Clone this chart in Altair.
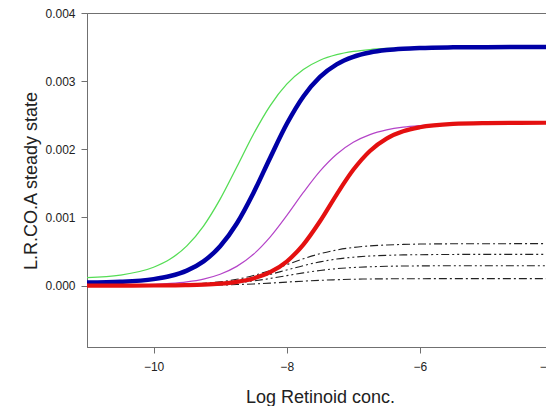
import altair as alt
import pandas as pd

# Log retinoid concentration (shared x grid)
log_conc = [-11, -10.5, -10, -9.75, -9.5, -9.25, -9, -8.75, -8.5, -8.25, -8, -7.75,
            -7.5, -7.25, -7, -6.75, -6.5, -6.25, -6, -5.5, -5, -4.5, -4]

# Steady-state values, in units of 0.001
green = [0.118, 0.155, 0.270, 0.390, 0.584, 0.875, 1.270, 1.741, 2.222, 2.639, 2.956, 3.171,
         3.307, 3.388, 3.436, 3.464, 3.480, 3.489, 3.494, 3.498, 3.499, 3.500, 3.500]
blue = [0.045, 0.057, 0.096, 0.141, 0.220, 0.356, 0.578, 0.912, 1.360, 1.874, 2.371, 2.776,
        3.063, 3.247, 3.357, 3.420, 3.456, 3.476, 3.487, 3.496, 3.499, 3.500, 3.500]
purple = [0.002, 0.006, 0.018, 0.032, 0.056, 0.097, 0.168, 0.283, 0.460, 0.712, 1.027, 1.367,
          1.680, 1.928, 2.103, 2.216, 2.285, 2.326, 2.349, 2.370, 2.377, 2.379, 2.380]
red = [0.000, 0.001, 0.002, 0.004, 0.008, 0.015, 0.029, 0.056, 0.106, 0.197, 0.354, 0.603,
       0.945, 1.337, 1.699, 1.976, 2.157, 2.264, 2.323, 2.372, 2.385, 2.389, 2.390]
black1 = [0.001, 0.002, 0.006, 0.011, 0.019, 0.033, 0.056, 0.093, 0.148, 0.222, 0.308, 0.394,
          0.468, 0.523, 0.560, 0.583, 0.597, 0.605, 0.610, 0.614, 0.615, 0.616, 0.616]
black2 = [0.000, 0.001, 0.005, 0.008, 0.014, 0.024, 0.042, 0.069, 0.110, 0.165, 0.230, 0.294,
          0.349, 0.390, 0.417, 0.435, 0.445, 0.451, 0.454, 0.458, 0.459, 0.459, 0.459]
black3 = [0.000, 0.001, 0.003, 0.005, 0.009, 0.016, 0.027, 0.044, 0.070, 0.105, 0.147, 0.188,
          0.223, 0.249, 0.266, 0.277, 0.284, 0.288, 0.290, 0.292, 0.293, 0.293, 0.293]
black4 = [0.000, 0.000, 0.001, 0.002, 0.003, 0.005, 0.009, 0.016, 0.025, 0.037, 0.052, 0.066,
          0.078, 0.087, 0.094, 0.098, 0.100, 0.101, 0.102, 0.103, 0.103, 0.103, 0.103]

y_ticks = [0.0, 0.001, 0.002, 0.003, 0.004]
x_ticks = [-10, -8, -6, -4]

# (name, values, color, width, dash) in drawing order
series = [
    ("black4", black4, "#222222", 1.1, [8, 3, 2, 3]),
    ("black3", black3, "#222222", 1.1, [8, 3, 2, 3, 2, 3]),
    ("black2", black2, "#222222", 1.1, [8, 3, 2, 3, 2, 3]),
    ("black1", black1, "#222222", 1.1, [8, 3, 2, 3]),
    ("purple", purple, "#B444C8", 1.2, None),
    ("green", green, "#55DD55", 1.3, None),
    ("blue", blue, "#0000A6", 4.5, None),
    ("red", red, "#E41010", 4.2, None),
]

FONT = "Liberation Sans"
x_scale = alt.Scale(domain=[-11, -4], nice=False, zero=False)
y_scale = alt.Scale(domain=[-0.0009, 0.004], nice=False, zero=False)

x_axis = alt.Axis(values=x_ticks, format="d", grid=False, tickSize=6, labelPadding=8,
                  labelFont=FONT, labelFontSize=12, labelColor="#222222",
                  domainColor="#707070", tickColor="#707070",
                  title="Log Retinoid conc.", titleFont=FONT, titleFontSize=18,
                  titleFontWeight="normal", titleColor="#222222",
                  titleBaseline="alphabetic", titleY=55)
y_axis = alt.Axis(values=y_ticks, format=".3f", grid=False, tickSize=6, labelPadding=6,
                  labelFont=FONT, labelFontSize=12, labelColor="#222222",
                  domainColor="#707070", tickColor="#707070",
                  title="L.R.CO.A steady state", titleFont=FONT, titleFontSize=18,
                  titleFontWeight="normal", titleColor="#222222",
                  titleBaseline="alphabetic", titleX=-51, titleY=167.5)

layers = []
for name, vals, color, width, dash in series:
    df = pd.DataFrame({"x": log_conc, "y": [v * 0.001 for v in vals]})
    kw = dict(color=color, strokeWidth=width, interpolate="monotone")
    if dash is not None:
        kw["strokeDash"] = dash
    layer = alt.Chart(df).mark_line(**kw).encode(
        x=alt.X("x:Q", scale=x_scale, axis=x_axis),
        y=alt.Y("y:Q", scale=y_scale, axis=y_axis),
    )
    layers.append(layer)

chart = alt.layer(*layers).properties(
    width=466, height=334,
    autosize=alt.AutoSizeParams(type="none"),
    padding={"left": 79, "top": 5, "right": -7, "bottom": 59},
).configure_view(stroke="#707070", strokeWidth=1)

chart.save("out.html", embed_options={"renderer": "svg", "actions": False})
